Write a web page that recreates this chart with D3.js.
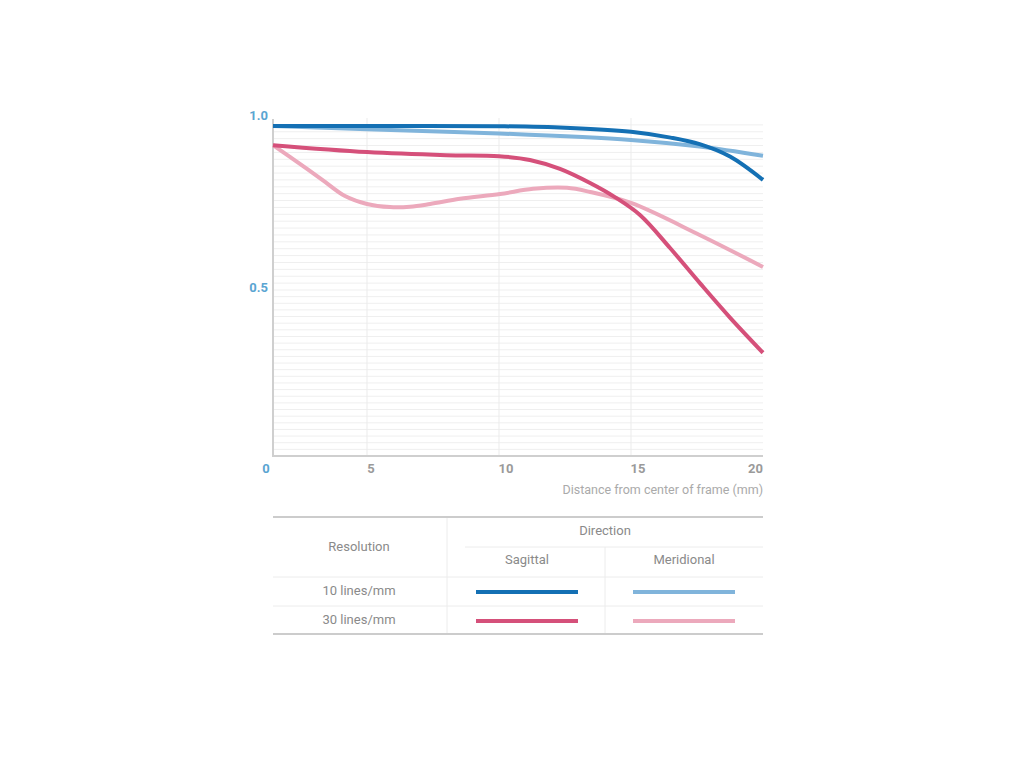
<!DOCTYPE html>
<html>
<head>
<meta charset="utf-8">
<script src="https://cdn.jsdelivr.net/npm/d3@7"></script>
<style>
  html, body { margin: 0; padding: 0; background: #fff; }
  svg { display: block; font-family: Roboto, "Liberation Sans", sans-serif; }
</style>
</head>
<body>
<svg id="chart" width="1024" height="768"></svg>
<script>
// ---- data ----
const xTicks = [5, 10, 15, 20];
const yTicks = [0.5, 1.0];
const xTitle = "Distance from center of frame (mm)";

const sagittal10 = [
  [0, 0.977], [5, 0.977], [10, 0.976], [12.5, 0.972], [15, 0.96],
  [16.5, 0.943], [17.6, 0.924], [18.75, 0.888], [20, 0.82]
];
const meridional10 = [
  [0, 0.977], [5, 0.967], [10, 0.955], [15, 0.936], [17.6, 0.917], [20, 0.89]
];
const sagittal30 = [
  [0, 0.921], [5, 0.901], [8, 0.892], [10, 0.889], [11.17, 0.878], [12.31, 0.852],
  [13.45, 0.811], [14.39, 0.770], [15.34, 0.718], [16.48, 0.622], [17.61, 0.520],
  [18.75, 0.417], [20, 0.311]
];
const meridional30 = [
  [0, 0.921], [0.9, 0.887], [1.81, 0.852], [2.77, 0.814], [3.83, 0.773], [5, 0.750],
  [5.87, 0.741], [6.63, 0.742], [7.39, 0.750], [8.52, 0.765], [10.04, 0.779],
  [11.29, 0.794], [12.58, 0.797], [13.45, 0.785], [15, 0.753], [17.6, 0.66], [20, 0.567]
];

const seriesNames = ["10 lines/mm Sagittal", "10 lines/mm Meridional", "30 lines/mm Sagittal", "30 lines/mm Meridional"];
const seriesData = [sagittal10, meridional10, sagittal30, meridional30];
const seriesColors = ["#1470b4", "#80b4db", "#d5507a", "#eca9bc"];

const rowLabels = ["10 lines/mm", "30 lines/mm"];
const colLabels = ["Sagittal", "Meridional"];

// ---- layout ----
const svg = d3.select("#chart");
const L = 273, R = 763, T = 118, B = 456;

const x = d3.scaleLinear().domain([0, 5, 20]).range([L, 367, R]);
const y = d3.scaleLinear().domain([0, 0.5, 1]).range([B, 290, T]);

// grid
const grid = svg.append("g");
const hLines = d3.range(1, 50).map(i => i * 0.02);
grid.selectAll("line.h").data(hLines).join("line")
  .attr("x1", L).attr("x2", R)
  .attr("y1", d => y(d)).attr("y2", d => y(d))
  .attr("stroke", "#efefef").attr("stroke-width", 1);
grid.selectAll("line.v").data(xTicks.slice(0, 3)).join("line")
  .attr("x1", d => x(d)).attr("x2", d => x(d))
  .attr("y1", T).attr("y2", B)
  .attr("stroke", "#ebebeb").attr("stroke-width", 1);

// axes lines
svg.append("line").attr("x1", L).attr("x2", L).attr("y1", T + 1).attr("y2", B + 1)
  .attr("stroke", "#cfcfcf").attr("stroke-width", 2);
svg.append("line").attr("x1", L - 1).attr("x2", R).attr("y1", B).attr("y2", B)
  .attr("stroke", "#cfcfcf").attr("stroke-width", 2);

// y labels
svg.selectAll("text.yl").data(yTicks).join("text")
  .attr("x", 268).attr("y", d => y(d) - 1)
  .attr("text-anchor", "end").attr("dominant-baseline", "middle")
  .attr("font-size", 13).attr("font-weight", "bold").attr("fill", "#5aa5d2")
  .text(d => d3.format(".1f")(d));
// origin label
svg.append("text").attr("x", 266).attr("y", 473).attr("text-anchor", "middle")
  .attr("font-size", 13).attr("font-weight", "bold").attr("fill", "#5aa5d2").text("0");
// x labels
svg.selectAll("text.xl").data(xTicks).join("text")
  .attr("x", (d, i) => i === xTicks.length - 1 ? R : x(d) + (i === 0 ? 4 : 7))
  .attr("y", 473)
  .attr("text-anchor", (d, i) => i === xTicks.length - 1 ? "end" : "middle")
  .attr("font-size", 13).attr("font-weight", "bold").attr("fill", "#9a9a9a")
  .text(d => d);
svg.append("text").attr("x", R).attr("y", 494).attr("text-anchor", "end")
  .attr("font-size", 12.5).attr("fill", "#aaaaaa").text(xTitle);

// curves
const line = d3.line().x(d => x(d[0])).y(d => y(d[1])).curve(d3.curveCatmullRom.alpha(0.5));
const order = [1, 0, 3, 2];
svg.append("g").selectAll("path").data(order).join("path")
  .attr("d", i => line(seriesData[i]))
  .attr("fill", "none").attr("stroke", i => seriesColors[i])
  .attr("stroke-width", 4).attr("stroke-linecap", "butt")
  .attr("aria-label", i => seriesNames[i]);

// ---- legend table ----
const tg = svg.append("g");
const tc = "#8a8a8a";
tg.append("line").attr("x1", L).attr("x2", R).attr("y1", 517).attr("y2", 517).attr("stroke", "#cccccc").attr("stroke-width", 2);
tg.append("line").attr("x1", L).attr("x2", R).attr("y1", 634).attr("y2", 634).attr("stroke", "#cccccc").attr("stroke-width", 2);
tg.append("line").attr("x1", 465).attr("x2", R).attr("y1", 547).attr("y2", 547).attr("stroke", "#ececec").attr("stroke-width", 1);
tg.append("line").attr("x1", L).attr("x2", R).attr("y1", 577).attr("y2", 577).attr("stroke", "#ececec").attr("stroke-width", 1);
tg.append("line").attr("x1", L).attr("x2", R).attr("y1", 606).attr("y2", 606).attr("stroke", "#ececec").attr("stroke-width", 1);
tg.append("line").attr("x1", 447).attr("x2", 447).attr("y1", 518).attr("y2", 633).attr("stroke", "#ececec").attr("stroke-width", 1);
tg.append("line").attr("x1", 605).attr("x2", 605).attr("y1", 547).attr("y2", 633).attr("stroke", "#ececec").attr("stroke-width", 1);

const txt = (tx, ty, s) => tg.append("text").attr("x", tx).attr("y", ty)
  .attr("text-anchor", "middle").attr("dominant-baseline", "middle")
  .attr("font-size", 13).attr("fill", tc).text(s);
txt(605, 532, "Direction");
txt(359, 548, "Resolution");
const colX = [527, 684];
colLabels.forEach((c, i) => txt(colX[i], 561, c));
const rowY = [592, 621];
rowLabels.forEach((r, i) => txt(359, rowY[i], r));
rowLabels.forEach((r, ri) => {
  colLabels.forEach((c, ci) => {
    const idx = ri * 2 + ci;
    tg.append("line")
      .attr("x1", colX[ci] - 51).attr("x2", colX[ci] + 51)
      .attr("y1", rowY[ri]).attr("y2", rowY[ri])
      .attr("stroke", seriesColors[idx]).attr("stroke-width", 4);
  });
});
</script>
</body>
</html>
